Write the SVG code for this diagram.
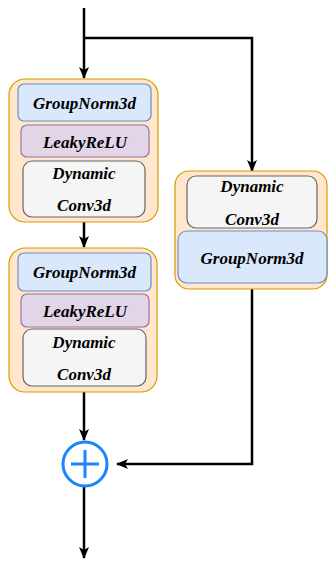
<svg xmlns="http://www.w3.org/2000/svg" width="328" height="562" viewBox="0 0 328 562">
  <style>
    .outer { fill: #ffe6cc; stroke: #d79b00; stroke-width: 1.2; }
    .gn { fill: #dae8fc; stroke: #6c8ebf; stroke-width: 1.2; }
    .lr { fill: #e1d5e7; stroke: #9673a6; stroke-width: 1.2; }
    .dc { fill: #f5f5f5; stroke: #666666; stroke-width: 1.2; }
    .lbl { font-family: "Liberation Serif", "Times New Roman", serif; font-size: 17px; font-weight: bold; font-style: italic; fill: #000; text-anchor: middle; dominant-baseline: central; }
    .wire { fill: none; stroke: #000; stroke-width: 2.5; }
  </style>
  <defs>
    <marker id="arrow" viewBox="0 0 12 12" refX="11" refY="6" markerWidth="12" markerHeight="12" markerUnits="userSpaceOnUse" orient="auto">
      <path d="M0,1 L12,6 L0,11 L3,6 Z" fill="#000"/>
    </marker>
  </defs>

  <!-- connectors -->
  <g id="connectors">
    <path class="wire" d="M84,8 L84,78" marker-end="url(#arrow)"/>
    <path class="wire" d="M84,38 L252,38 L252,171" marker-end="url(#arrow)"/>
    <path class="wire" d="M84,222 L84,247" marker-end="url(#arrow)"/>
    <path class="wire" d="M84,392 L84,440" marker-end="url(#arrow)"/>
    <path class="wire" d="M252,289 L252,464 L117,464" marker-end="url(#arrow)"/>
    <path class="wire" d="M84,487 L84,558" marker-end="url(#arrow)"/>
  </g>

  <!-- first block -->
  <g id="block1">
    <rect class="outer" x="9" y="79" width="149" height="143" rx="16"/>
    <rect class="gn" x="18" y="84" width="133" height="37" rx="6"/>
    <text class="lbl" x="84.5" y="103">GroupNorm3d</text>
    <rect class="lr" x="21" y="125" width="128" height="32" rx="6"/>
    <text class="lbl" x="85" y="142">LeakyReLU</text>
    <rect class="dc" x="23" y="161" width="122" height="56" rx="9"/>
    <text class="lbl" x="84" y="173">Dynamic</text>
    <text class="lbl" x="84" y="205">Conv3d</text>
  </g>

  <!-- second block -->
  <g id="block2">
    <rect class="outer" x="9" y="248" width="148" height="144" rx="16"/>
    <rect class="gn" x="18" y="253" width="133" height="38" rx="6"/>
    <text class="lbl" x="84.5" y="272">GroupNorm3d</text>
    <rect class="lr" x="21" y="294" width="128" height="33" rx="6"/>
    <text class="lbl" x="85" y="311">LeakyReLU</text>
    <rect class="dc" x="23" y="329" width="123" height="57" rx="9"/>
    <text class="lbl" x="84" y="342">Dynamic</text>
    <text class="lbl" x="84" y="374">Conv3d</text>
  </g>

  <!-- shortcut block -->
  <g id="shortcut">
    <rect class="outer" x="175" y="171" width="152" height="118" rx="14"/>
    <rect class="dc" x="187" y="176" width="130" height="52" rx="9"/>
    <text class="lbl" x="252" y="186">Dynamic</text>
    <text class="lbl" x="252" y="219">Conv3d</text>
    <rect class="gn" x="178" y="231" width="149" height="52" rx="9"/>
    <text class="lbl" x="252" y="258">GroupNorm3d</text>
  </g>

  <!-- summation node -->
  <g id="add">
    <circle cx="85" cy="464" r="22" fill="#ffffff" stroke="#1a85ff" stroke-width="3"/>
    <path d="M85,450 L85,478 M71,464 L99,464" stroke="#1a85ff" stroke-width="3" fill="none"/>
  </g>
</svg>
